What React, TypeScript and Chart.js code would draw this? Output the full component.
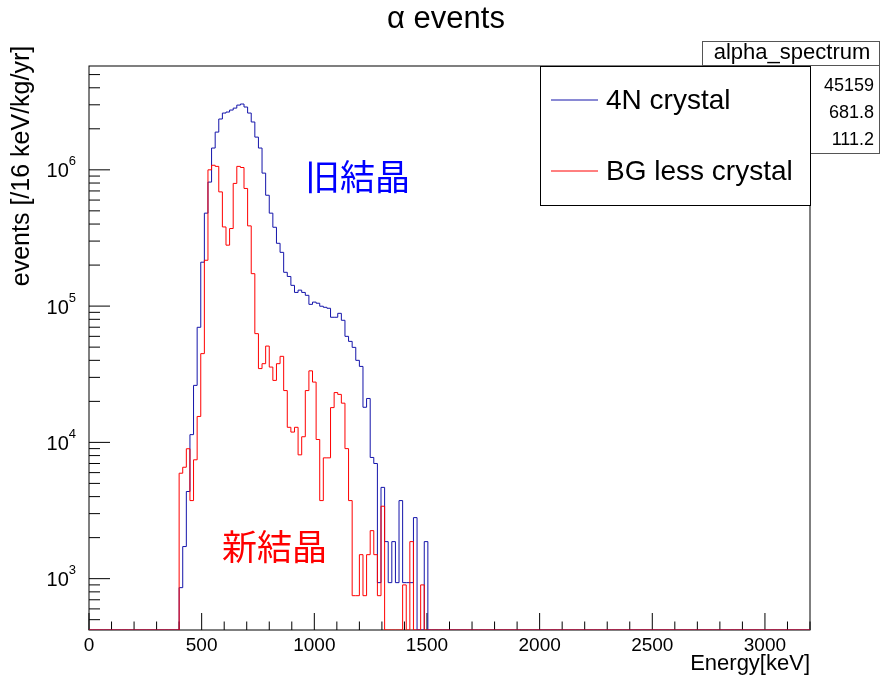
import React, { useEffect, useRef } from "react";
import { Chart, registerables } from "chart.js";

Chart.register(...registerables);

// ---- data ----
const BIN_WIDTH_KEV = 16;
const X_MIN_KEV = 0;
const X_MAX_KEV = 3200;
const Y_MIN = 420;
const Y_MAX = 5.78e6;
const FIRST_BIN_KEV = 400; // low edge of the first listed bin

// 4N crystal (old crystal), events per 16 keV bin, bins from 400 keV
const crystal4N = [
  859, 1720, 4360, 11400, 26200, 69900, 210000, 481000, 813000, 1445000,
  1892000, 2360000, 2610000, 2655000, 2746000, 2838000, 2985000, 3040000, 2890000, 2610000,
  2244000, 1738000, 1445000, 946000, 651000, 481000, 379000, 289000, 248000, 177000,
  165000, 142000, 126000, 131000, 126000, 120000, 103000, 107000, 105000, 99800,
  98000, 96400, 82800, 82800, 88500, 78700, 60000, 55100, 49800, 40000,
  36100, 18100, 21000, 7750, 7000, 935, 4675, 1870, 935, 1870,
  935, 3740, 935, 935, 935, 2805, 0, 0, 1870,
];

// BG less crystal (new crystal), events per 16 keV bin, bins from 400 keV
const bgLessCrystal = [
  5940, 6570, 8980, 3740, 7450, 15500, 44800, 217000, 1000000, 1080000,
  1060000, 689000, 381000, 280000, 371000, 795000, 1060000, 1040000, 730000, 388000,
  173000, 62800, 34800, 37800, 50900, 35700, 28500, 37800, 42800, 24000,
  12900, 11900, 12900, 8100, 11000, 24000, 33500, 27700, 10500, 3740,
  7700, 7700, 18000, 23200, 22500, 19400, 9000, 3740, 750, 750,
  1500, 750, 1500, 2250, 1500, 750, 3400, 0, 0, 0,
  0, 0, 900, 0, 1870, 0, 0, 900, 0,
];

const SERIES_LABELS = ["4N crystal", "BG less crystal"];
const X_TICK_LABELS = [0, 500, 1000, 1500, 2000, 2500, 3000];
const Y_DECADE_EXPONENTS = [3, 4, 5, 6];
const STATS_TITLE = "alpha_spectrum";
const STATS_VALUES = ["45159", "681.8", "111.2"];
const TITLE = "α events";
const X_TITLE = "Energy[keV]";
const Y_TITLE = "events [/16 keV/kg/yr]";
const NOTE_OLD = "旧結晶";
const NOTE_NEW = "新結晶";

const BLUE = "#1414aa";
const RED = "#ff0000";
const FONT = "'Liberation Sans', Arial, Helvetica, sans-serif";
const CJK = "'Noto Sans CJK JP', 'Noto Sans CJK SC', sans-serif";

function histPoints(values: number[]) {
  const pts: { x: number; y: number }[] = [];
  const nBins = Math.round((X_MAX_KEV - X_MIN_KEV) / BIN_WIDTH_KEV);
  for (let i = 0; i < nBins; i++) {
    const lo = X_MIN_KEV + i * BIN_WIDTH_KEV;
    const idx = Math.round((lo - FIRST_BIN_KEV) / BIN_WIDTH_KEV);
    const v = idx >= 0 && idx < values.length ? values[idx] : 0;
    pts.push({ x: lo, y: v > 0 ? v : Y_MIN });
  }
  pts.push({ x: X_MAX_KEV, y: pts[pts.length - 1].y });
  return pts;
}

const decorPlugin = {
  id: "rootDecor",
  beforeDatasetsDraw(chart: any) {
    const { ctx, chartArea: a, scales } = chart;
    const x = scales.x;
    const y = scales.y;
    ctx.save();
    ctx.strokeStyle = "#000";
    ctx.lineWidth = 1;
    ctx.strokeRect(a.left, a.top, a.right - a.left, a.bottom - a.top);
    ctx.beginPath();
    for (let e = X_MIN_KEV; e <= X_MAX_KEV; e += 100) {
      const px = x.getPixelForValue(e);
      const len = e % 500 === 0 ? 17 : 8.5;
      ctx.moveTo(px, a.bottom);
      ctx.lineTo(px, a.bottom - len);
    }
    for (let d = 2; d <= 6; d++) {
      for (let k = 1; k <= 9; k++) {
        const v = k * Math.pow(10, d);
        if (v < Y_MIN || v > Y_MAX) continue;
        const py = y.getPixelForValue(v);
        const len = k === 1 ? 21 : 11;
        ctx.moveTo(a.left, py);
        ctx.lineTo(a.left + len, py);
      }
    }
    ctx.stroke();
    ctx.restore();
  },
  afterDraw(chart: any) {
    const { ctx, chartArea: a, scales } = chart;
    const x = scales.x;
    const y = scales.y;
    ctx.save();
    ctx.fillStyle = "#000";

    // title
    ctx.font = `31px ${FONT}`;
    ctx.textAlign = "center";
    ctx.textBaseline = "middle";
    ctx.fillText(TITLE, 446, 19);

    // x tick labels
    ctx.font = `19px ${FONT}`;
    ctx.textAlign = "center";
    for (const t of X_TICK_LABELS) {
      ctx.fillText(String(t), x.getPixelForValue(t), 646);
    }
    // x title
    ctx.font = `22px ${FONT}`;
    ctx.textAlign = "right";
    ctx.fillText(X_TITLE, a.right, 664);

    // y tick labels 10^n
    for (const n of Y_DECADE_EXPONENTS) {
      const py = y.getPixelForValue(Math.pow(10, n));
      ctx.font = `13px ${FONT}`;
      ctx.textAlign = "right";
      ctx.fillText(String(n), 76, py - 8);
      const supW = ctx.measureText(String(n)).width;
      ctx.font = `20px ${FONT}`;
      ctx.fillText("10", 76 - supW, py + 2);
    }

    // y title
    ctx.save();
    ctx.translate(22, 166);
    ctx.rotate(-Math.PI / 2);
    ctx.font = `25px ${FONT}`;
    ctx.textAlign = "center";
    ctx.fillText(Y_TITLE, 0, 0);
    ctx.restore();

    // stats box
    ctx.fillStyle = "#fff";
    ctx.fillRect(702, 41, 178, 112);
    ctx.strokeStyle = "#555";
    ctx.lineWidth = 1;
    ctx.strokeRect(702.5, 41.5, 177, 112);
    ctx.beginPath();
    ctx.moveTo(702, 65.5);
    ctx.lineTo(880, 65.5);
    ctx.stroke();
    ctx.fillStyle = "#000";
    ctx.font = `22px ${FONT}`;
    ctx.textAlign = "center";
    ctx.fillText(STATS_TITLE, 792, 53);
    ctx.font = `18px ${FONT}`;
    ctx.textAlign = "right";
    STATS_VALUES.forEach((s, i) => ctx.fillText(s, 874, 86 + i * 27));

    // legend
    ctx.fillStyle = "#fff";
    ctx.fillRect(540, 66, 270, 139);
    ctx.strokeStyle = "#000";
    ctx.strokeRect(540.5, 66.5, 270, 139);
    const legendColors = [BLUE, RED];
    const legendY = [100, 171];
    SERIES_LABELS.forEach((lab, i) => {
      ctx.strokeStyle = legendColors[i];
      ctx.lineWidth = 1;
      ctx.beginPath();
      ctx.moveTo(551, legendY[i]);
      ctx.lineTo(598, legendY[i]);
      ctx.stroke();
      ctx.fillStyle = "#000";
      ctx.font = `28px ${FONT}`;
      ctx.textAlign = "left";
      ctx.fillText(lab, 606, legendY[i] + 1);
    });

    // annotations
    ctx.font = `35px ${CJK}`;
    ctx.textAlign = "left";
    ctx.fillStyle = "#0000ff";
    ctx.fillText(NOTE_OLD, 305, 177);
    ctx.fillStyle = "#ff0000";
    ctx.fillText(NOTE_NEW, 222, 547);
    ctx.restore();
  },
};

export default function App() {
  const ref = useRef<HTMLCanvasElement | null>(null);
  useEffect(() => {
    if (!ref.current) return;
    const chart = new Chart(ref.current, {
      type: "line",
      data: {
        datasets: [
          {
            label: SERIES_LABELS[1],
            data: histPoints(bgLessCrystal),
            borderColor: RED,
            borderWidth: 1,
            pointRadius: 0,
            stepped: true,
            fill: false,
            tension: 0,
          },
          {
            label: SERIES_LABELS[0],
            data: histPoints(crystal4N),
            borderColor: BLUE,
            borderWidth: 1,
            pointRadius: 0,
            stepped: true,
            fill: false,
            tension: 0,
          },
        ],
      },
      options: {
        responsive: false,
        devicePixelRatio: 1,
        animation: false,
        events: [],
        layout: { padding: { left: 0, top: 66, right: 72, bottom: 0 } },
        plugins: {
          legend: { display: false },
          title: { display: false },
          tooltip: { enabled: false },
        },
        scales: {
          x: {
            type: "linear",
            min: X_MIN_KEV,
            max: X_MAX_KEV,
            grid: { display: false },
            border: { display: false },
            ticks: { display: false },
            afterFit: (s: any) => {
              s.height = 49;
            },
          },
          y: {
            type: "logarithmic",
            min: Y_MIN,
            max: Y_MAX,
            grid: { display: false },
            border: { display: false },
            ticks: { display: false },
            afterFit: (s: any) => {
              s.width = 89;
            },
          },
        },
      },
      plugins: [decorPlugin],
    });
    return () => chart.destroy();
  }, []);
  return (
    <div style={{ position: "absolute", left: 0, top: 0, width: 882, height: 679, background: "#fff" }}>
      <canvas ref={ref} width={882} height={679} style={{ display: "block" }} />
    </div>
  );
}
